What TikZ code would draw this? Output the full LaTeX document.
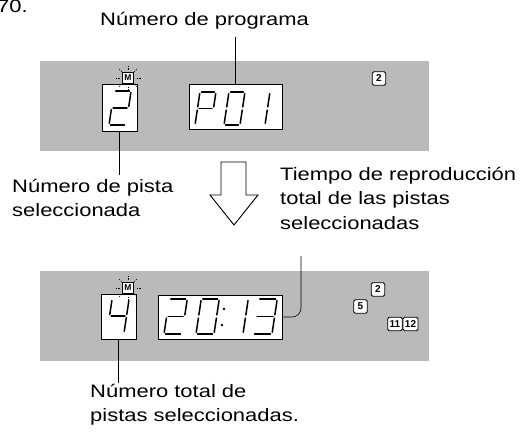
\documentclass[tikz,border=0pt]{standalone}
\usepackage{fontspec}
\setmainfont{Liberation Sans}[FakeStretch=1.22]
\newfontfamily\smallfont{Liberation Sans}
\newcommand\segdraw[1]{%
 \if a#1\draw[segline] (\dsl,1) -- (1+\dsl,1);\fi
 \if b#1\draw[segline] (1+\dsl,1) -- (1+\dsl/2,0.5);\fi
 \if c#1\draw[segline] (1+\dsl/2,0.5) -- (1,0);\fi
 \if d#1\draw[segline] (0,0) -- (1,0);\fi
 \if e#1\draw[segline] (\dsl/2,0.5) -- (0,0);\fi
 \if f#1\draw[segline] (\dsl,1) -- (\dsl/2,0.5);\fi
 \if g#1\draw[segline] (\dsl/2,0.5) -- (1+\dsl/2,0.5);\fi}
\newcommand\sevdigit[5]{%
 \begin{scope}[shift={(#1,#2)},x=#3pt,y=#4pt]
 \pgfmathsetmacro\dsl{0.15*#4/#3}
 \foreach \sg in {#5}{\segdraw{\sg}}
 \end{scope}}
\begin{document}
\begin{tikzpicture}[x=1pt,y=-1pt,
  panel/.style={fill=black!27, draw=none},
  lcd/.style={draw=black, fill=white, line width=0.9pt, inner sep=0pt},
  segline/.style={line width=1.5pt, line cap=round, shorten >=1.6pt, shorten <=1.6pt},
  leader/.style={line width=0.6pt},
  txt/.style={inner sep=0pt, anchor=base west, align=left, font=\fontsize{18}{24.5}\selectfont},
  numtag/.style={draw, line width=0.8pt, rounded corners=1.5pt, fill=white, inner sep=0pt, minimum width=13.5pt, minimum height=13.5pt, font=\smallfont\bfseries\fontsize{10}{10}\selectfont},
  mtag/.style={draw, line width=0.7pt, fill=white, inner sep=0pt, minimum width=11pt, minimum height=11pt, font=\smallfont\bfseries\fontsize{8.5}{8.5}\selectfont},
  ray/.style={line width=0.5pt, dash pattern=on 1.5pt off 1pt}
]
\useasboundingbox (0,0) rectangle (524,440);
% panels
\fill[panel] (40,61) rectangle (429,151);
\fill[panel] (40,271) rectangle (429,361);
% top display
\node[lcd, minimum width=35pt, minimum height=47pt] (d1) at (119.5,107.5) {};
\node[lcd, minimum width=93pt, minimum height=45pt] (p1) at (235.5,106.5) {};
\sevdigit{109}{125}{17}{34}{a,b,g,e,d}
\sevdigit{195}{125}{16}{33}{a,b,f,e,g}
\sevdigit{224}{125}{16}{33}{a,b,c,d,e,f}
\sevdigit{249}{125}{16}{33}{b,c}
\foreach \a in {0,45,90,135,180,225,270,315} \draw[ray] (128,78) ++(\a:8.5) -- ++(\a:5);
\node[mtag] (m1) at (128,78) {M};
\node[numtag] (n2a) at (379,78.5) {2};
% bottom display
\node[lcd, minimum width=35pt, minimum height=45pt] (d2) at (118.5,316.5) {};
\node[lcd, minimum width=124pt, minimum height=44pt] (t2) at (220,317) {};
\sevdigit{107}{333}{17}{34}{f,g,b,c}
\sevdigit{164}{334}{18}{35}{a,b,g,e,d}
\sevdigit{196}{334}{18}{35}{a,b,c,d,e,f}
\fill (224,309) circle (1.3pt);
\fill (222,325) circle (1.3pt);
\sevdigit{225}{334}{18}{35}{b,c}
\sevdigit{253}{334}{19}{35}{a,b,g,c,d}
\foreach \a in {0,45,90,135,180,225,270,315} \draw[ray] (128,288) ++(\a:8.5) -- ++(\a:5);
\node[mtag] (m2) at (128,288) {M};
\node[numtag] (n2b) at (378,289.5) {2};
\node[numtag] (n5) at (360.5,306.5) {5};
\node[numtag, minimum width=14.5pt] (n11) at (395,324) {11};
\node[numtag, minimum width=15pt] (n12) at (410.5,324) {12};
% arrow
\draw[line width=0.9pt, fill=white, line join=miter] (221,162) -- (246,162) -- (246,195) -- (258,195) -- (234,225) -- (210,195) -- (221,195) -- cycle;
% texts
\node[txt] (t70) at (-3,12.5) {70.};
\node[txt] (prog) at (100,25) {Número de programa};
\node[txt] (pista) at (12,216.5) {Número de pista\\seleccionada};
\node[txt] (tiempo) at (280,229) {Tiempo de reproducción\\total de las pistas\\seleccionadas};
\node[txt] (total) at (90,421.5) {Número total de\\pistas seleccionadas.};
% leaders
\coordinate (c1) at (119.5,175);
\coordinate (c2) at (235.5,37);
\coordinate (c3) at (301,256);
\coordinate (c4) at (118.5,383);
\draw[leader] (d1.south) -- (c1);
\draw[leader] (c2) -- (p1.north);
\draw[leader, rounded corners=9pt] (c3) |- (t2.east);
\draw[leader] (d2.south) -- (c4);
\end{tikzpicture}
\end{document}
